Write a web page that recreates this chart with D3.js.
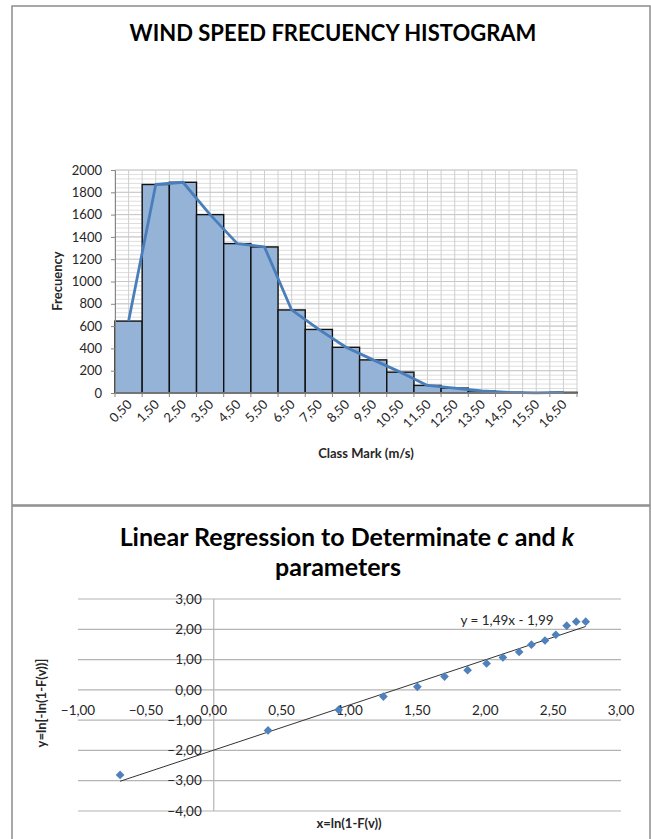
<!DOCTYPE html>
<html>
<head>
<meta charset="utf-8">
<script src="https://cdn.jsdelivr.net/npm/d3@7"></script>
<style>
  body { margin: 0; background: #fff; }
  text { font-family: Lato, "Open Sans", sans-serif; fill: #262626; }
</style>
</head>
<body>
<svg id="chart" width="651" height="839"></svg>
<script>
// histogram data
const classMarks = [0.5, 1.5, 2.5, 3.5, 4.5, 5.5, 6.5, 7.5, 8.5, 9.5, 10.5, 11.5, 12.5, 13.5, 14.5, 15.5, 16.5];
const frequency = [645, 1870, 1890, 1600, 1340, 1310, 745, 570, 410, 297, 187, 68, 44, 18, 6, 2, 6];
const histTicks = [0, 200, 400, 600, 800, 1000, 1200, 1400, 1600, 1800, 2000];

// regression data
const lnX = [-0.69, 0.40, 0.92, 1.25, 1.50, 1.70, 1.87, 2.01, 2.13, 2.25, 2.34, 2.44, 2.52, 2.60, 2.67, 2.74];
const lnY = [-2.81, -1.34, -0.66, -0.22, 0.10, 0.44, 0.65, 0.87, 1.07, 1.25, 1.49, 1.63, 1.82, 2.12, 2.25, 2.25];
const regXTicks = [-1, -0.5, 0, 0.5, 1, 1.5, 2, 2.5, 3];
const regYTicks = [-4, -3, -2, -1, 0, 1, 2, 3];
const slope = 1.49;
const intercept = -1.99;

const comma = d3.formatLocale({decimal: ",", thousands: ".", grouping: [3], currency: ["", ""]});
const fmt2 = comma.format(".2f");

const svg = d3.select("#chart");

// make a text element exactly as wide as in the picture
function fitWidth(sel, target) {
    const size = parseFloat(sel.attr("font-size"));
    const w = sel.node().getComputedTextLength();
    sel.attr("font-size", size * target / w);
}

// chart frames
svg.append("rect")
    .attr("x", 12).attr("y", 6).attr("width", 638).attr("height", 499)
    .attr("fill", "none").attr("stroke", "#8c8c8c").attr("stroke-width", 1.5);
svg.append("rect")
    .attr("x", 12).attr("y", 506).attr("width", 638).attr("height", 400)
    .attr("fill", "none").attr("stroke", "#8c8c8c").attr("stroke-width", 1.5);

// ---------------- histogram ----------------
const hx = d3.scaleBand().domain(classMarks).range([115, 577]).padding(0);
const hy = d3.scaleLinear().domain([0, 2000]).range([393, 170]);
const bw = hx.bandwidth();

const title1 = svg.append("text")
    .attr("x", 333).attr("y", 41)
    .attr("text-anchor", "middle")
    .attr("font-size", 22).attr("font-weight", "bold")
    .style("fill", "#000")
    .text("WIND SPEED FRECUENCY HISTOGRAM");
fitWidth(title1, 407);

const hGrid = svg.append("g");
// minor horizontal grid
hGrid.selectAll("line.minor")
    .data(d3.range(0, 2001, 40))
    .join("line")
    .attr("class", "minor")
    .attr("x1", 115).attr("x2", 577)
    .attr("y1", d => hy(d)).attr("y2", d => hy(d))
    .attr("stroke", "#dedede").attr("stroke-width", 1);
// vertical grid, boundaries and centres
const vLines = [];
classMarks.forEach(c => { vLines.push(hx(c)); vLines.push(hx(c) + bw / 2); });
vLines.push(577);
hGrid.selectAll("line.v")
    .data(vLines)
    .join("line")
    .attr("class", "v")
    .attr("x1", d => d).attr("x2", d => d)
    .attr("y1", 170).attr("y2", 393)
    .attr("stroke", "#cfcfcf").attr("stroke-width", 1);
hGrid.selectAll("line.major")
    .data(histTicks)
    .join("line")
    .attr("class", "major")
    .attr("x1", 115).attr("x2", 577)
    .attr("y1", d => hy(d)).attr("y2", d => hy(d))
    .attr("stroke", "#c8c8c8").attr("stroke-width", 1);

// bars
svg.append("g")
    .selectAll("rect")
    .data(classMarks)
    .join("rect")
    .attr("x", d => hx(d))
    .attr("width", bw)
    .attr("y", (d, i) => hy(frequency[i]))
    .attr("height", (d, i) => hy(0) - hy(frequency[i]))
    .attr("fill", "#95b3d7")
    .attr("stroke", "#111")
    .attr("stroke-width", 1.4);

// frequency polygon
svg.append("path")
    .datum(classMarks)
    .attr("fill", "none")
    .attr("stroke", "#4a7ebb")
    .attr("stroke-width", 2.8)
    .attr("stroke-linejoin", "round")
    .attr("d", d3.line()
        .x(d => hx(d) + bw / 2)
        .y((d, i) => hy(frequency[i])));

// y axis
const yAxis = svg.append("g")
    .attr("transform", "translate(115,0)")
    .call(d3.axisLeft(hy).tickValues(histTicks).tickSize(4).tickPadding(9).tickFormat(d3.format("d")));
yAxis.select(".domain").attr("stroke", "#868686");
yAxis.selectAll(".tick line").attr("stroke", "#868686");
yAxis.selectAll(".tick text").attr("font-size", 13).attr("font-family", null).style("fill", "#262626");

// x axis
svg.append("line")
    .attr("x1", 115).attr("x2", 577).attr("y1", hy(0)).attr("y2", hy(0))
    .attr("stroke", "#868686").attr("stroke-width", 1.5);
svg.append("g").selectAll("line")
    .data(d3.range(classMarks.length + 1))
    .join("line")
    .attr("x1", i => 115 + i * bw).attr("x2", i => 115 + i * bw)
    .attr("y1", hy(0)).attr("y2", hy(0) + 4)
    .attr("stroke", "#868686");
svg.append("g").selectAll("text")
    .data(classMarks)
    .join("text")
    .attr("transform", d => `translate(${hx(d) + bw / 2 + 1},${hy(0) + 9}) rotate(-45)`)
    .attr("text-anchor", "end")
    .attr("dy", "0.35em")
    .attr("font-size", 13)
    .text(d => fmt2(d));

svg.append("text")
    .attr("transform", "translate(62,281) rotate(-90)")
    .attr("text-anchor", "middle")
    .attr("font-size", 13).attr("font-weight", "bold")
    .text("Frecuency");
svg.append("text")
    .attr("x", 366).attr("y", 458)
    .attr("text-anchor", "middle")
    .attr("font-size", 13).attr("font-weight", "bold")
    .text("Class Mark (m/s)");

// ---------------- regression ----------------
const t2a = svg.append("text")
    .attr("x", 347).attr("y", 546)
    .attr("text-anchor", "middle")
    .attr("font-size", 24).attr("font-weight", "bold")
    .style("fill", "#000");
t2a.append("tspan").text("Linear Regression to Determinate ");
t2a.append("tspan").attr("font-style", "italic").text("c");
t2a.append("tspan").text(" and ");
t2a.append("tspan").attr("font-style", "italic").text("k");
fitWidth(t2a, 455);
svg.append("text")
    .attr("x", 338).attr("y", 576)
    .attr("text-anchor", "middle")
    .attr("font-size", t2a.attr("font-size")).attr("font-weight", "bold")
    .style("fill", "#000")
    .text("parameters");

const rx = d3.scaleLinear().domain([-1, 3]).range([78, 621]);
const ry = d3.scaleLinear().domain([-4, 3]).range([811, 599]);

svg.append("g").selectAll("line")
    .data(regYTicks)
    .join("line")
    .attr("x1", rx(-1)).attr("x2", rx(3))
    .attr("y1", d => ry(d)).attr("y2", d => ry(d))
    .attr("stroke", "#b4b4b4").attr("stroke-width", 1.2);
svg.append("line")
    .attr("x1", rx(0)).attr("x2", rx(0))
    .attr("y1", ry(3)).attr("y2", ry(-4))
    .attr("stroke", "#b4b4b4").attr("stroke-width", 1.2);

svg.append("g").selectAll("text")
    .data(regYTicks)
    .join("text")
    .attr("x", rx(0) - 12)
    .attr("y", d => ry(d))
    .attr("dy", "0.35em")
    .attr("text-anchor", "end")
    .attr("font-size", 13.5)
    .text(d => fmt2(d));
svg.append("g").selectAll("text")
    .data(regXTicks)
    .join("text")
    .attr("x", d => rx(d))
    .attr("y", ry(0) + 20)
    .attr("dy", "0.35em")
    .attr("text-anchor", "middle")
    .attr("font-size", 13.5)
    .text(d => fmt2(d));

// trend line
const xExt = d3.extent(lnX);
svg.append("path")
    .datum(xExt)
    .attr("fill", "none")
    .attr("stroke", "#333")
    .attr("stroke-width", 1)
    .attr("d", d3.line().x(d => rx(d)).y(d => ry(slope * d + intercept)));

// points
svg.append("g").selectAll("path")
    .data(lnX)
    .join("path")
    .attr("transform", (d, i) => `translate(${rx(d)},${ry(lnY[i])}) rotate(45)`)
    .attr("d", d3.symbol().type(d3.symbolSquare).size(38))
    .attr("fill", "#4f81bd");

svg.append("text")
    .attr("x", 507).attr("y", 620)
    .attr("dy", "0.35em")
    .attr("text-anchor", "middle")
    .attr("font-size", 13.5)
    .text(`y = ${fmt2(slope)}x - ${fmt2(-intercept)}`);

svg.append("text")
    .attr("transform", "translate(46,703) rotate(-90)")
    .attr("text-anchor", "middle")
    .attr("font-size", 13).attr("font-weight", "bold")
    .text("y=ln[-ln(1-F(v))]");
svg.append("text")
    .attr("x", 349).attr("y", 828)
    .attr("text-anchor", "middle")
    .attr("font-size", 13).attr("font-weight", "bold")
    .text("x=ln(1-F(v))");
</script>
</body>
</html>
